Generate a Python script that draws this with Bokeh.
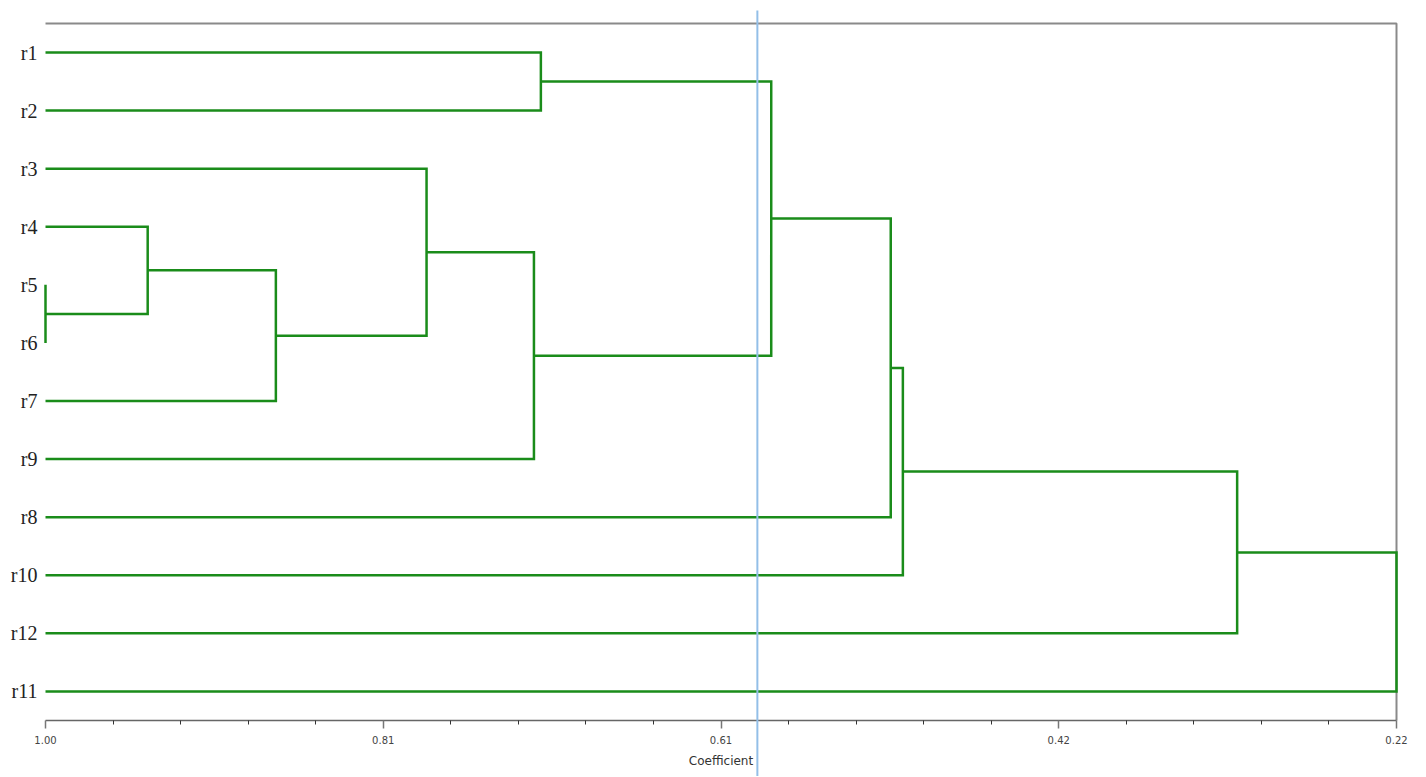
from bokeh.plotting import figure
from bokeh.models import Range1d, FixedTicker, BoxAnnotation
from bokeh.embed import file_html
from bokeh.resources import INLINE
import numpy as np

# ---- data ----
leaves = ["r1", "r2", "r3", "r4", "r5", "r6", "r7", "r9", "r8", "r10", "r12", "r11"]
# merges: (child_a, child_b, coefficient); ids 0..11 are leaves, 12.. new clusters
merge_a = [4, 3, 6, 2, 7, 0, 17, 18, 19, 20, 21]
merge_b = [5, 12, 13, 14, 15, 1, 16, 8, 9, 10, 11]
merge_h = [1.00, 0.941, 0.867, 0.780, 0.718, 0.714, 0.581, 0.512, 0.505, 0.312, 0.22]
cut_value = 0.589
tick_values = [1.00, 0.805, 0.61, 0.415, 0.22]
tick_labels = ["1.00", "0.81", "0.61", "0.42", "0.22"]
leaf_start = 1.00
x_max, x_min = 1.00, 0.22

GREEN = "#1a8c1a"
BLUE = "#93bfe8"

# ---- layout (pixels) ----
W, H = 1420, 776
LEFT_PX, RIGHT_PX = 45, 1396   # canvas x of x_max and x_min
ROW = 58.08                    # pixels per leaf row
TOP_Y = 23                     # canvas y of the top border
px = (x_max - x_min) / (RIGHT_PX - LEFT_PX)
y_top = -0.5
y_bot = len(leaves) - 0.5

p = figure(width=W, height=H, output_backend="svg", toolbar_location=None,
           x_range=Range1d(x_max + LEFT_PX * px, x_min - (W - RIGHT_PX) * px),
           y_range=Range1d(y_top + (H - TOP_Y) / ROW, y_top - TOP_Y / ROW),
           min_border_left=0, min_border_right=0, min_border_top=0, min_border_bottom=0)
p.outline_line_color = None
p.xgrid.visible = False
p.ygrid.visible = False
p.background_fill_color = "white"
p.border_fill_color = "white"

# dendrogram geometry
node_x = [leaf_start] * len(leaves)
node_y = list(range(len(leaves)))
xs, ys = [], []
for a, b, h in zip(merge_a, merge_b, merge_h):
    xs.append([node_x[a], h, h, node_x[b]])
    ys.append([node_y[a], node_y[a], node_y[b], node_y[b]])
    node_x.append(h)
    node_y.append((node_y[a] + node_y[b]) / 2)

# frame border (top and right)
p.line([x_max, x_min, x_min], [y_top, y_top, y_bot],
       line_color="#8a8a8a", line_width=2)

p.multi_line(xs, ys, line_color=GREEN, line_width=2.5, line_join="miter")

# cut line (screen units: measured upward from the frame bottom)
p.add_layout(BoxAnnotation(left=cut_value + px, right=cut_value - px,
                           top=H - 10, bottom=0,
                           top_units="screen", bottom_units="screen",
                           fill_color=BLUE, fill_alpha=1.0, line_color=None, level="overlay"))

# x axis (fixed at the bottom of the leaf band)
minor = []
for i in range(len(tick_values) - 1):
    minor += list(np.linspace(tick_values[i], tick_values[i + 1], 6)[1:-1])
p.xaxis.fixed_location = y_bot
p.xaxis.ticker = FixedTicker(ticks=tick_values, minor_ticks=minor)
p.xaxis.bounds = (x_min, x_max)
p.xaxis.major_label_overrides = {v: l for v, l in zip(tick_values, tick_labels)}
p.xaxis.axis_label = "Coefficient"
p.xaxis.axis_label_text_font = "DejaVu Sans"
p.xaxis.axis_label_text_font_size = "12px"
p.xaxis.axis_label_text_font_style = "normal"
p.xaxis.axis_label_text_color = "#333333"
p.xaxis.axis_label_standoff = 6
p.xaxis.major_label_text_font = "DejaVu Sans"
p.xaxis.major_label_text_font_size = "10px"
p.xaxis.major_label_text_color = "#444444"
p.xaxis.major_label_standoff = 8
p.xaxis.axis_line_color = "#666666"
p.xaxis.axis_line_width = 1.5
p.xaxis.major_tick_line_color = "#777777"
p.xaxis.major_tick_line_width = 1.5
p.xaxis.major_tick_out = 8
p.xaxis.major_tick_in = 0
p.xaxis.minor_tick_line_color = "#333333"
p.xaxis.minor_tick_out = 4
p.xaxis.minor_tick_in = 0

# y axis (fixed just left of the leaves)
p.yaxis.fixed_location = x_max + 2 * px
p.yaxis.ticker = FixedTicker(ticks=list(range(len(leaves))), minor_ticks=[])
p.yaxis.major_label_overrides = {i: n for i, n in enumerate(leaves)}
p.yaxis.major_label_text_font = "Liberation Serif"
p.yaxis.major_label_text_font_size = "20px"
p.yaxis.major_label_text_color = "#222222"
p.yaxis.major_label_standoff = 0
p.yaxis.axis_line_color = None
p.yaxis.major_tick_line_color = None
p.yaxis.minor_tick_line_color = None

open("out.html", "w").write(file_html(p, INLINE))
